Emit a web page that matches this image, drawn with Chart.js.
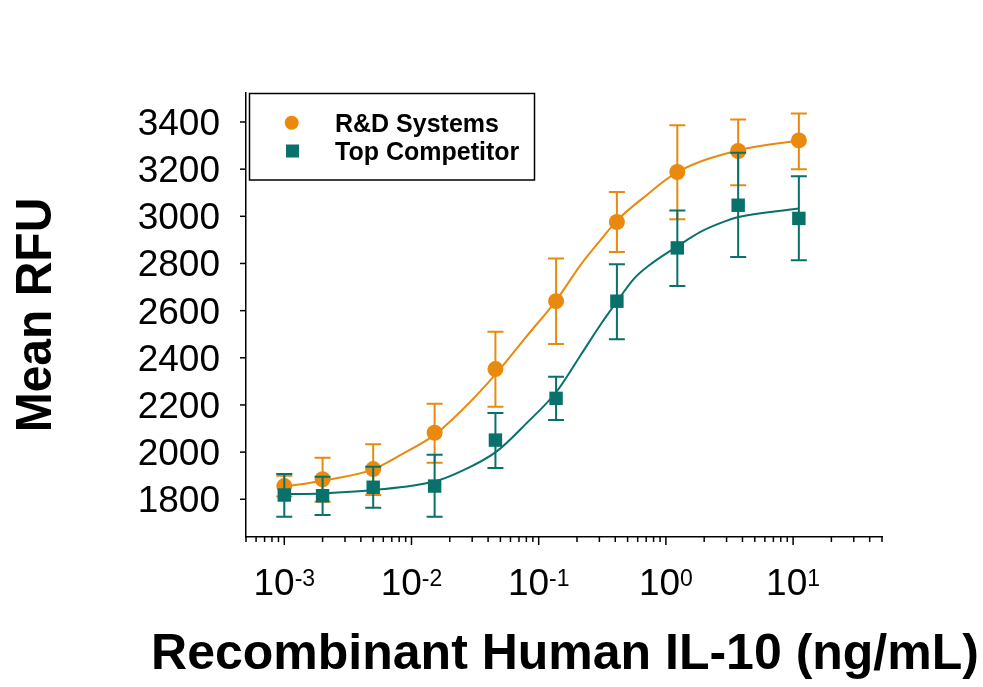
<!DOCTYPE html>
<html>
<head>
<meta charset="utf-8">
<script src="https://cdn.jsdelivr.net/npm/chart.js@4.4.1/dist/chart.umd.min.js"></script>
<style>
  html, body { margin: 0; padding: 0; background: #fff; }
  #wrap { width: 983px; height: 687px; }
</style>
</head>
<body>
<div id="wrap"><canvas id="myChart" width="983" height="687"></canvas></div>
<script>
// IL-10 concentration (ng/mL)
const conc = [0.001, 0.002, 0.005, 0.0152, 0.0457, 0.137, 0.412, 1.23, 3.70, 11.1];

// R&D Systems
const rndMean = [1856, 1885, 1928, 2082, 2352, 2640, 2976, 3188, 3277, 3322];
const rndHigh = [1900, 1976, 2033, 2205, 2510, 2821, 3103, 3386, 3411, 3436];
const rndLow  = [1812, 1790, 1818, 1955, 2192, 2458, 2849, 2988, 3132, 3200];

// Top Competitor
const compMean = [1818, 1815, 1851, 1856, 2051, 2228, 2640, 2866, 3047, 2991];
const compHigh = [1907, 1896, 1938, 1989, 2166, 2320, 2797, 3025, 3270, 3170];
const compLow  = [1726, 1733, 1764, 1726, 1933, 2136, 2479, 2705, 2828, 2814];

// fitted curves
const rndFitX = [0.001, 0.002, 0.005, 0.00865, 0.0151, 0.0242, 0.0465, 0.080, 0.138, 0.213, 0.306, 0.414, 0.652, 1.24, 3.73, 11.1];
const rndFitY = [1853, 1879, 1927, 1995, 2072, 2171, 2334, 2490, 2645, 2793, 2899, 2983, 3075, 3188, 3280, 3322];
const compFitX = [0.001, 0.002, 0.005, 0.0151, 0.0242, 0.0465, 0.080, 0.138, 0.213, 0.306, 0.414, 0.56, 0.759, 1.24, 1.87, 2.61, 3.73, 11.1];
const compFitY = [1822, 1825, 1839, 1875, 1917, 2002, 2122, 2256, 2410, 2540, 2640, 2735, 2797, 2874, 2934, 2969, 2997, 3033];

const yTicks = [1800, 2000, 2200, 2400, 2600, 2800, 3000, 3200, 3400];
const xTickExps = [-3, -2, -1, 0, 1];

const ORANGE = '#E98A0E', TEAL = '#08716B';
const FONT = "'Liberation Sans', Arial, sans-serif";

function pts(xs, ys) {
  return xs.map((x, i) => ({x: x, y: ys[i]}));
}

// error bars under each point dataset
const errorBars = {
  id: 'errorBars',
  beforeDatasetDraw(chart, args) {
    const ds = chart.data.datasets[args.index];
    if (!ds.errHigh) return;
    const ctx = chart.ctx, xs = chart.scales.x, ys = chart.scales.y;
    ctx.save();
    ctx.strokeStyle = ds.borderColor;
    ctx.lineWidth = 2;
    ds.data.forEach((p, i) => {
      const px = xs.getPixelForValue(p.x);
      const top = ys.getPixelForValue(ds.errHigh[i]);
      const bot = ys.getPixelForValue(ds.errLow[i]);
      ctx.beginPath();
      ctx.moveTo(px, top); ctx.lineTo(px, bot);
      ctx.moveTo(px - 8, top); ctx.lineTo(px + 8, top);
      ctx.moveTo(px - 8, bot); ctx.lineTo(px + 8, bot);
      ctx.stroke();
    });
    ctx.restore();
  }
};

// tick marks, tick labels, titles, legend
const decorations = {
  id: 'decorations',
  afterDraw(chart) {
    const ctx = chart.ctx, xs = chart.scales.x, ys = chart.scales.y;
    const area = chart.chartArea;
    ctx.save();
    ctx.strokeStyle = '#000';
    ctx.fillStyle = '#000';
    ctx.lineWidth = 1.5;

    // x tick marks
    xs.ticks.forEach(t => {
      const px = xs.getPixelForValue(t.value);
      ctx.beginPath();
      ctx.moveTo(px, area.bottom);
      ctx.lineTo(px, area.bottom + (t.major ? 8 : 5));
      ctx.stroke();
    });
    // y tick marks + labels
    ctx.font = '37px ' + FONT;
    ctx.textAlign = 'right';
    ctx.textBaseline = 'alphabetic';
    yTicks.forEach(v => {
      const py = ys.getPixelForValue(v);
      ctx.beginPath();
      ctx.moveTo(area.left - 6, py);
      ctx.lineTo(area.left, py);
      ctx.stroke();
      ctx.fillText(String(v), 220, py + 13);
    });

    // x labels 10^n
    ctx.textAlign = 'left';
    xTickExps.forEach(e => {
      const px = xs.getPixelForValue(Math.pow(10, e));
      ctx.font = '37px ' + FONT;
      const w1 = ctx.measureText('10').width;
      ctx.font = '23px ' + FONT;
      const sup = String(e);
      const w2 = ctx.measureText(sup).width;
      const x0 = px - (w1 + w2) / 2;
      ctx.font = '37px ' + FONT;
      ctx.fillText('10', x0, 595);
      ctx.font = '23px ' + FONT;
      ctx.fillText(sup, x0 + w1, 586);
    });

    // axis titles
    ctx.font = 'bold 50px ' + FONT;
    ctx.textAlign = 'center';
    ctx.fillText('Recombinant Human IL-10 (ng/mL)', 565, 669);
    ctx.save();
    ctx.translate(51, 315);
    ctx.rotate(-Math.PI / 2);
    ctx.scale(0.96, 1);
    ctx.fillText('Mean RFU', 0, 0);
    ctx.restore();

    // legend
    ctx.lineWidth = 1.5;
    ctx.strokeRect(249.5, 93.5, 285, 86.5);
    ctx.fillStyle = ORANGE;
    ctx.beginPath();
    ctx.arc(291.7, 122.7, 7, 0, Math.PI * 2);
    ctx.fill();
    ctx.fillStyle = TEAL;
    ctx.fillRect(286, 144.5, 13, 13);
    ctx.fillStyle = '#000';
    ctx.font = 'bold 25px ' + FONT;
    ctx.textAlign = 'left';
    ctx.fillText('R&D Systems', 335, 131.5);
    ctx.fillText('Top Competitor', 335, 160);
    ctx.restore();
  }
};

const context = document.getElementById('myChart').getContext('2d');
const chart = new Chart(context, {
  type: 'scatter',
  data: {
    datasets: [
      {
        type: 'line', label: 'R&D fit', data: pts(rndFitX, rndFitY),
        borderColor: ORANGE, borderWidth: 2, pointRadius: 0,
        cubicInterpolationMode: 'monotone', fill: false, order: 6
      },
      {
        label: 'R&D Systems', data: pts(conc, rndMean),
        errHigh: rndHigh, errLow: rndLow,
        borderColor: ORANGE, backgroundColor: ORANGE,
        pointStyle: 'circle', pointRadius: 8, pointBorderWidth: 0, order: 5
      },
      {
        type: 'line', label: 'Competitor fit', data: pts(compFitX, compFitY),
        borderColor: TEAL, borderWidth: 2, pointRadius: 0,
        cubicInterpolationMode: 'monotone', fill: false, order: 4
      },
      {
        label: 'Top Competitor', data: pts(conc, compMean),
        errHigh: compHigh, errLow: compLow,
        borderColor: TEAL, backgroundColor: TEAL,
        pointStyle: 'rect', pointRadius: 9.5, pointBorderWidth: 0, order: 3
      }
    ]
  },
  options: {
    responsive: false,
    animation: false,
    layout: { padding: { left: 246, right: 101, top: 93, bottom: 150 } },
    plugins: { legend: { display: false }, tooltip: { enabled: false } },
    scales: {
      x: {
        type: 'logarithmic', min: 0.0005, max: 50,
        grid: { display: false, drawTicks: false },
        border: { display: true, color: '#000', width: 1.5 },
        ticks: { display: false },
        afterBuildTicks(scale) {
          const list = [];
          for (let e = -4; e <= 1; e++) {
            for (let m = 1; m <= 9; m++) {
              const v = +(m * Math.pow(10, e)).toPrecision(6);
              if (v >= 0.0005 && v <= 50) list.push({value: v, major: m === 1});
            }
          }
          scale.ticks = list;
        }
      },
      y: {
        min: 1640, max: 3523,
        grid: { display: false, drawTicks: false },
        border: { display: true, color: '#000', width: 1.5 },
        ticks: { display: false },
        afterBuildTicks(scale) {
          scale.ticks = yTicks.map(v => ({value: v}));
        }
      }
    }
  },
  plugins: [errorBars, decorations]
});
</script>
</body>
</html>
